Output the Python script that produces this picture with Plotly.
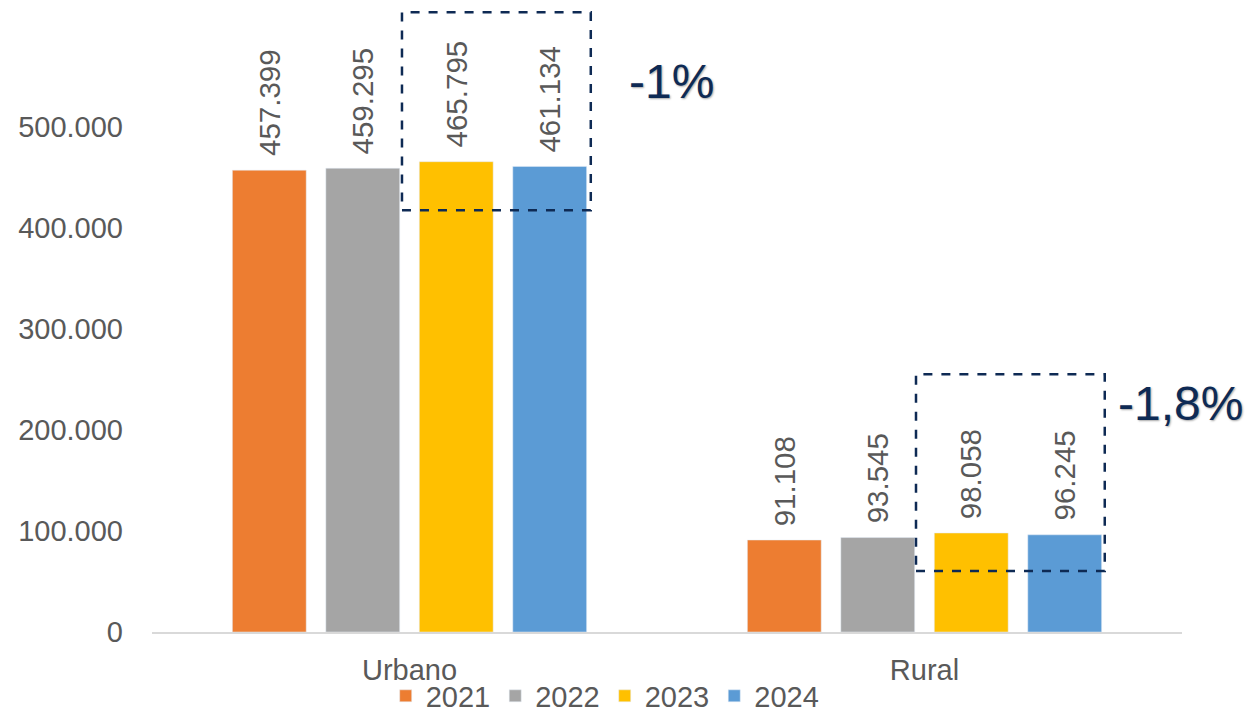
import plotly.graph_objects as go

categories = ["Urbano", "Rural"]
years = ["2021", "2022", "2023", "2024"]
v2021 = [457399, 91108]
v2022 = [459295, 93545]
v2023 = [465795, 98058]
v2024 = [461134, 96245]
series = [v2021, v2022, v2023, v2024]
colors = ["#ED7D31", "#A5A5A5", "#FFC000", "#5B9BD5"]
changes = ["-1%", "-1,8%"]
tick_vals = [0, 100000, 200000, 300000, 400000, 500000]
tick_text = ["0", "100.000", "200.000", "300.000", "400.000", "500.000"]

BARGAP = 0.274
GROUPW = 1 - BARGAP
SLOT = GROUPW / len(years)


def fmt(v):
    return f"{v:,}".replace(",", ".")


fig = go.Figure()
for j, (y, vals, c) in enumerate(zip(years, series, colors)):
    fig.add_trace(go.Bar(x=categories, y=vals, name=y, marker_color=c,
                         hoverinfo="skip"))
    # value labels above each bar (rotated)
    off = -GROUPW / 2 + SLOT * (j + 0.5)
    for i, v in enumerate(vals):
        fig.add_annotation(x=i + off, y=v, xref="x", yref="y", text=fmt(v),
                           showarrow=False, textangle=-90, yanchor="bottom",
                           xanchor="center", yshift=12,
                           font=dict(size=29.5, color="#595959",
                                     family="Liberation Sans"))

navy = "#0E2A54"
# dashed boxes around 2023-2024
boxes = [(-0.0146, 0.352, 417800, 613900), (0.9835, 1.350, 60400, 255400)]
for (x0, x1, y0, y1) in boxes:
    fig.add_shape(type="rect", xref="x", yref="y", x0=x0, x1=x1, y0=y0, y1=y1,
                  line=dict(color=navy, width=2.5, dash="dash"))

ann_pos = [(0.422, 545500), (1.372, 226800)]
for (ax, ay), t in zip(ann_pos, changes):
    fig.add_annotation(x=ax, y=ay, xref="x", yref="y", text=t, showarrow=False,
                       xanchor="left", yanchor="middle",
                       font=dict(size=48, color=navy, family="Liberation Sans",
                                 shadow="1px 1px 2px rgba(0,0,0,0.35)"))

fig.update_layout(
    width=1246, height=716,
    margin=dict(l=152, r=64, t=6, b=84, autoexpand=False),
    paper_bgcolor="white", plot_bgcolor="white",
    barmode="group", bargap=BARGAP, bargroupgap=0.21,
    hovermode=False,
    font=dict(family="Liberation Sans", color="#595959", size=29),
    legend=dict(orientation="h", x=0.440, xanchor="center", y=-0.1022, yanchor="middle",
                font=dict(size=29, color="#595959"), itemwidth=30,
                bgcolor="rgba(0,0,0,0)", traceorder="normal"),
    showlegend=True,
)
fig.update_xaxes(range=[-0.5, 1.5], showline=True, linecolor="#D9D9D9", linewidth=1.5,
                 ticks="", tickfont=dict(size=29, color="#595959"), showgrid=False,
                 ticklabelstandoff=12, automargin=False)
fig.update_yaxes(range=[0, 620000], tickvals=tick_vals, ticktext=tick_text,
                 showgrid=False, zeroline=False, showline=False, ticks="",
                 tickfont=dict(size=29, color="#595959"), ticklabelstandoff=28,
                 automargin=False)

fig.write_html("out.html",
               config={"displayModeBar": False, "staticPlot": True},
               post_script="document.body.style.margin='0px';"
                           "document.body.style.overflow='hidden';")
